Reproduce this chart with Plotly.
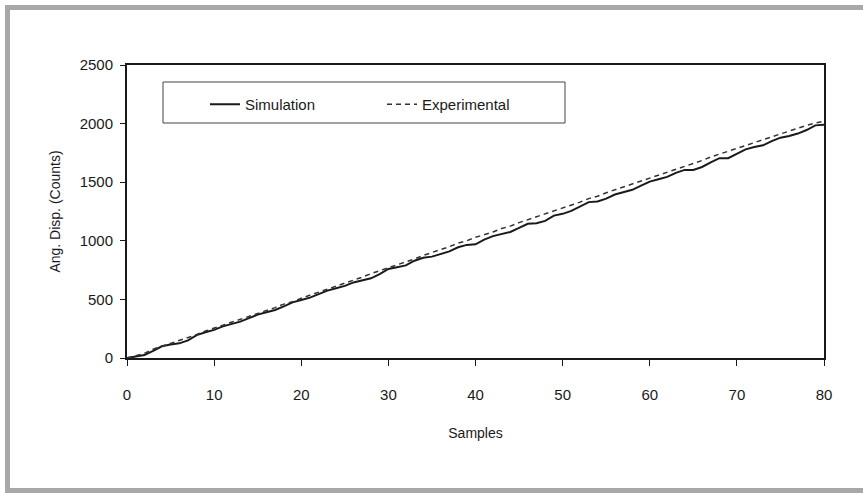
import plotly.graph_objects as go

samples = list(range(0, 81))

simulation = [0, 10, 25, 60, 100, 115, 125, 150, 195, 220,
              240, 270, 290, 310, 340, 370, 390, 410, 440, 475,
              495, 515, 545, 575, 595, 615, 645, 665, 680, 715,
              760, 775, 790, 830, 855, 865, 885, 910, 945, 965,
              970, 1010, 1040, 1055, 1075, 1110, 1145, 1150, 1170, 1215,
              1230, 1255, 1295, 1330, 1335, 1360, 1395, 1415, 1435, 1470,
              1505, 1525, 1545, 1580, 1605, 1605, 1630, 1670, 1705, 1705,
              1740, 1780, 1800, 1815, 1850, 1880, 1895, 1915, 1945, 1985,
              1990]

experimental = [0, 20, 40, 75, 100, 125, 150, 170, 200, 230,
                255, 275, 305, 330, 350, 380, 405, 430, 460, 480,
                510, 535, 560, 585, 615, 640, 660, 690, 720, 745,
                765, 795, 820, 845, 875, 900, 920, 950, 980, 1000,
                1030, 1050, 1075, 1105, 1125, 1155, 1180, 1200, 1230, 1255,
                1280, 1300, 1330, 1360, 1380, 1410, 1435, 1455, 1485, 1510,
                1535, 1555, 1585, 1610, 1630, 1660, 1685, 1715, 1740, 1760,
                1785, 1810, 1835, 1860, 1885, 1915, 1940, 1960, 1985, 2005,
                2020]

x_ticks = [0, 10, 20, 30, 40, 50, 60, 70, 80]
y_ticks = [0, 500, 1000, 1500, 2000, 2500]

FONT = "Liberation Sans, Arial, sans-serif"

fig = go.Figure()
fig.add_trace(go.Scatter(x=samples, y=simulation, mode="lines", name="Simulation",
                         line=dict(color="#1a1a1a", width=2)))
fig.add_trace(go.Scatter(x=samples, y=experimental, mode="lines", name="Experimental",
                         line=dict(color="#333333", width=1.5, dash="5px,4px")))

# plot area pixel geometry: left 127, right 824, top 65, bottom 358
L, R, T, B = 127, 824, 65, 358
W, H = R - L, B - T

def px(xp):
    return (xp - L) / W

def py(yp):
    return (B - yp) / H

shapes = [
    # outer gray frame
    dict(type="rect", xref="paper", yref="paper", x0=px(5), x1=px(10), y0=py(493), y1=py(5),
         fillcolor="#a8a8a8", line=dict(width=0), layer="below"),
    dict(type="rect", xref="paper", yref="paper", x0=px(5), x1=px(866), y0=py(10), y1=py(5),
         fillcolor="#a8a8a8", line=dict(width=0), layer="below"),
    dict(type="rect", xref="paper", yref="paper", x0=px(5), x1=px(866), y0=py(493), y1=py(488),
         fillcolor="#a8a8a8", line=dict(width=0), layer="below"),
    # legend box
    dict(type="rect", xref="paper", yref="paper", x0=px(163), x1=px(565), y0=py(123), y1=py(82),
         fillcolor="white", line=dict(color="#444444", width=1), layer="below"),
]

fig.update_layout(
    width=863, height=493,
    margin=dict(l=L, r=863 - R, t=T, b=493 - B),
    paper_bgcolor="white", plot_bgcolor="white",
    font=dict(family=FONT, size=13, color="#1a1a1a"),
    showlegend=True,
    legend=dict(orientation="h", x=px(205), y=py(88), xanchor="left", yanchor="top",
                bgcolor="rgba(0,0,0,0)", borderwidth=0, entrywidth=132,
                font=dict(family=FONT, size=15, color="#1a1a1a")),
    shapes=shapes,
    xaxis=dict(range=[0, 80], tickvals=x_ticks, ticks="outside", ticklen=6, tickwidth=1,
               tickcolor="#1a1a1a", showline=True, linecolor="#1a1a1a", linewidth=2,
               mirror=True, showgrid=False, zeroline=False, ticklabelstandoff=16,
               title=dict(text="Samples", standoff=26, font=dict(size=14)),
               tickfont=dict(size=15)),
    yaxis=dict(range=[0, 2500], tickvals=y_ticks, ticks="outside", ticklen=5, tickwidth=1,
               tickcolor="#1a1a1a", showline=True, linecolor="#1a1a1a", linewidth=2,
               mirror=True, showgrid=False, zeroline=False, ticklabelstandoff=4,
               title=dict(text="Ang. Disp. (Counts)", standoff=16, font=dict(size=14)),
               tickfont=dict(size=15)),
)

fig.write_html("out.html", config={"displayModeBar": False},
               post_script="document.body.style.margin='0';document.body.style.overflow='hidden';")
